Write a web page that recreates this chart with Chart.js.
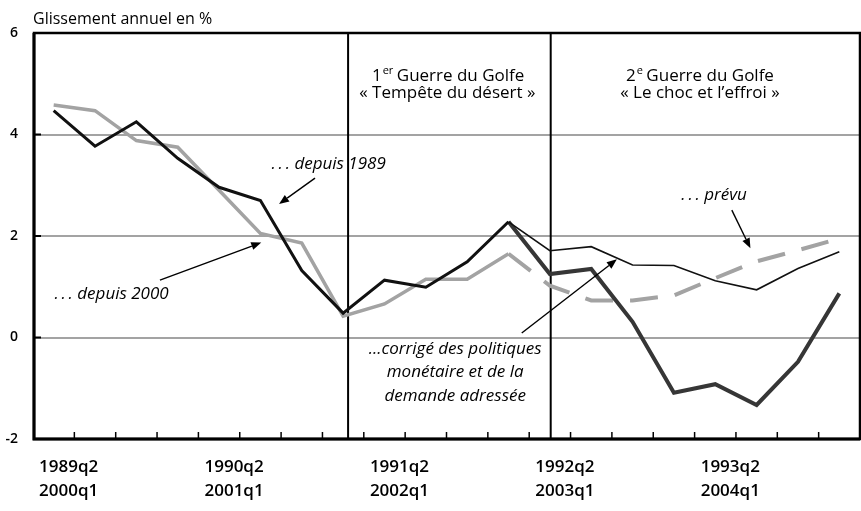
<!DOCTYPE html>
<html>
<head>
<meta charset="utf-8">
<script src="https://cdn.jsdelivr.net/npm/chart.js@4.4.0/dist/chart.umd.min.js"></script>
<style>
  body { margin: 0; background: #fff; }
  canvas { display: block; }
</style>
</head>
<body>
<canvas id="chart" width="861" height="511"></canvas>
<script>
// quarters, two calendars sharing the same x positions
const quarters89 = ['1989q2','1989q3','1989q4','1990q1','1990q2','1990q3','1990q4','1991q1','1991q2','1991q3',
                    '1991q4','1992q1','1992q2','1992q3','1992q4','1993q1','1993q2','1993q3','1993q4','1994q1'];
const quarters00 = ['2000q1','2000q2','2000q3','2000q4','2001q1','2001q2','2001q3','2001q4','2002q1','2002q2',
                    '2002q3','2002q4','2003q1','2003q2','2003q3','2003q4','2004q1','2004q2','2004q3','2004q4'];

const since1989 = [4.47, 3.77, 4.25, 3.53, 2.96, 2.70, 1.32, 0.48, 1.13, 0.99, 1.49, 2.28,
                   null, null, null, null, null, null, null, null];
const since2000 = [4.58, 4.47, 3.88, 3.75, 2.90, 2.05, 1.86, 0.42, 0.66, 1.15, 1.15, 1.65,
                   null, null, null, null, null, null, null, null];
const forecast  = [null, null, null, null, null, null, null, null, null, null, null, 1.65,
                   1.02, 0.73, 0.73, 0.83, 1.17, 1.50, 1.72, 1.95];
const observed  = [null, null, null, null, null, null, null, null, null, null, null, 2.28,
                   1.71, 1.79, 1.43, 1.42, 1.12, 0.94, 1.36, 1.69];
const corrected = [null, null, null, null, null, null, null, null, null, null, null, 2.28,
                   1.25, 1.35, 0.31, -1.09, -0.92, -1.33, -0.48, 0.87];

// start of each war, in quarter index
const warStarts = [7.12, 12.02];

const yTicks = [-2, 0, 2, 4, 6];

const FONT = '"Open Sans", Lato, sans-serif';
const DOTS = '.\u2009.\u2009.';

// annotations in data units: [x index, y value]
const notes = [
    { text: DOTS + ' depuis 1989', at: [6.65, 3.42], italic: true },
    { text: DOTS + ' depuis 2000', at: [1.40, 0.86], italic: true },
    { text: DOTS + ' prévu', at: [15.97, 2.81], italic: true },
    { text: '...corrigé des politiques', at: [9.71, -0.23], italic: true },
    { text: 'monétaire et de la', at: [9.71, -0.69], italic: true },
    { text: 'demande adressée', at: [9.71, -1.15], italic: true },
    { text: '«\u00A0Tempête du désert\u00A0»', at: [9.52, 4.82] },
    { text: '«\u00A0Le choc et l’effroi\u00A0»', at: [15.63, 4.82] }
];
const supNotes = [
    { base: '1', sup: 'er', rest: ' Guerre du Golfe', at: [9.54, 5.15] },
    { base: '2', sup: 'e', rest: ' Guerre du Golfe', at: [15.63, 5.15] }
];
const arrows = [
    { from: [6.32, 3.14], to: [5.45, 2.63] },
    { from: [2.57, 1.13], to: [5.02, 1.87] },
    { from: [16.40, 2.51], to: [16.85, 1.76] },
    { from: [11.32, 0.09], to: [13.62, 1.54] }
];

const decorPlugin = {
    id: 'decor',
    beforeDatasetsDraw(chart) {
        const ctx = chart.ctx;
        const a = chart.chartArea;
        const x = chart.scales.x, y = chart.scales.y;
        ctx.save();
        ctx.strokeStyle = '#000';
        // small inner ticks on the y axis
        ctx.lineWidth = 2;
        yTicks.forEach(v => {
            const py = y.getPixelForValue(v);
            ctx.beginPath();
            ctx.moveTo(a.left, py);
            ctx.lineTo(a.left + 8, py);
            ctx.stroke();
        });
        // small inner ticks between quarters
        ctx.lineWidth = 1.5;
        for (let i = 1; i < quarters89.length; i++) {
            const px = (x.getPixelForValue(i - 1) + x.getPixelForValue(i)) / 2;
            ctx.beginPath();
            ctx.moveTo(px, a.bottom);
            ctx.lineTo(px, a.bottom - 7);
            ctx.stroke();
        }
        // war separators
        ctx.lineWidth = 2;
        warStarts.forEach(v => {
            const px = x.getPixelForValue(v);
            ctx.beginPath();
            ctx.moveTo(px, a.top);
            ctx.lineTo(px, a.bottom);
            ctx.stroke();
        });
        // frame
        ctx.lineWidth = 2.5;
        ctx.strokeRect(a.left + 1, a.top, a.right - a.left - 1, a.bottom - a.top);
        ctx.lineWidth = 3;
        ctx.beginPath();
        ctx.moveTo(a.left + 1, a.top);
        ctx.lineTo(a.left + 1, a.bottom);
        ctx.lineTo(a.right, a.bottom);
        ctx.stroke();
        ctx.restore();
    },
    afterDraw(chart) {
        const ctx = chart.ctx;
        const a = chart.chartArea;
        const x = chart.scales.x, y = chart.scales.y;
        const px = p => [x.getPixelForValue(p[0]), y.getPixelForValue(p[1])];
        ctx.save();
        ctx.fillStyle = '#000';
        ctx.textBaseline = 'middle';

        // axis title
        ctx.font = '16px ' + FONT;
        ctx.textAlign = 'left';
        ctx.fillText('Glissement annuel en %', a.left, 19);

        ctx.textAlign = 'center';
        notes.forEach(n => {
            const [cx, cy] = px(n.at);
            ctx.font = (n.italic ? 'italic ' : '') + '17px ' + FONT;
            ctx.fillText(n.text, cx, cy);
        });

        // labels with superscript
        ctx.textAlign = 'left';
        supNotes.forEach(n => {
            const [cx, cy] = px(n.at);
            ctx.font = '17px ' + FONT;
            const wb = ctx.measureText(n.base).width;
            const wr = ctx.measureText(n.rest).width;
            ctx.font = '11px ' + FONT;
            const ws = ctx.measureText(n.sup).width;
            let sx = cx - (wb + ws + wr) / 2;
            ctx.font = '17px ' + FONT;
            ctx.fillText(n.base, sx, cy);
            ctx.font = '11px ' + FONT;
            ctx.fillText(n.sup, sx + wb + 1, cy - 5);
            ctx.font = '17px ' + FONT;
            ctx.fillText(n.rest, sx + wb + ws, cy);
        });

        // arrows
        ctx.strokeStyle = '#000';
        ctx.lineWidth = 1.4;
        arrows.forEach(ar => {
            const [x0, y0] = px(ar.from);
            const [x1, y1] = px(ar.to);
            const ang = Math.atan2(y1 - y0, x1 - x0);
            const hl = 10, hw = 4;
            const bx = x1 - hl * Math.cos(ang), by = y1 - hl * Math.sin(ang);
            ctx.beginPath();
            ctx.moveTo(x0, y0);
            ctx.lineTo(bx, by);
            ctx.stroke();
            ctx.beginPath();
            ctx.moveTo(x1, y1);
            ctx.lineTo(bx + hw * Math.sin(ang), by - hw * Math.cos(ang));
            ctx.lineTo(bx - hw * Math.sin(ang), by + hw * Math.cos(ang));
            ctx.closePath();
            ctx.fill();
        });
        ctx.restore();
    }
};

const line = (data, color, width, dash) => ({
    data: data,
    borderColor: color,
    borderWidth: width,
    borderDash: dash || [],
    pointRadius: 0,
    tension: 0,
    fill: false,
    spanGaps: false
});

new Chart(document.getElementById('chart').getContext('2d'), {
    type: 'line',
    data: {
        labels: quarters89,
        datasets: [
            line(since1989, '#111111', 3),
            line(observed, '#111111', 1.6),
            line(corrected, '#363636', 4),
            line(since2000, '#a3a3a3', 3.5),
            line(forecast, '#a3a3a3', 4, [28, 17])
        ]
    },
    options: {
        responsive: false,
        animation: false,
        layout: { padding: { top: 33, right: 1, left: 0, bottom: 0 } },
        plugins: {
            legend: { display: false },
            tooltip: { enabled: false }
        },
        scales: {
            x: {
                offset: true,
                afterFit: s => { s.height = 72; },
                grid: { display: false, drawTicks: false },
                border: { display: false },
                ticks: {
                    autoSkip: false,
                    maxRotation: 0,
                    padding: 17,
                    labelOffset: 15,
                    color: '#000',
                    font: { family: FONT, size: 17, weight: '600', lineHeight: 1.37 },
                    callback: (v, i) => i % 4 === 0 ? [quarters89[i], quarters00[i]] : ''
                }
            },
            y: {
                min: -2,
                max: 6,
                afterFit: s => { s.width = 33; },
                afterBuildTicks: s => { s.ticks = yTicks.map(v => ({ value: v })); },
                grid: {
                    drawTicks: false,
                    lineWidth: 2,
                    color: c => (c.tick && c.tick.value > -2 && c.tick.value < 6) ? '#a3a3a3' : 'rgba(0,0,0,0)'
                },
                border: { display: false },
                ticks: {
                    padding: 15,
                    color: '#000',
                    font: { family: FONT, size: 14, weight: '600' }
                }
            }
        }
    },
    plugins: [decorPlugin]
});
</script>
</body>
</html>
